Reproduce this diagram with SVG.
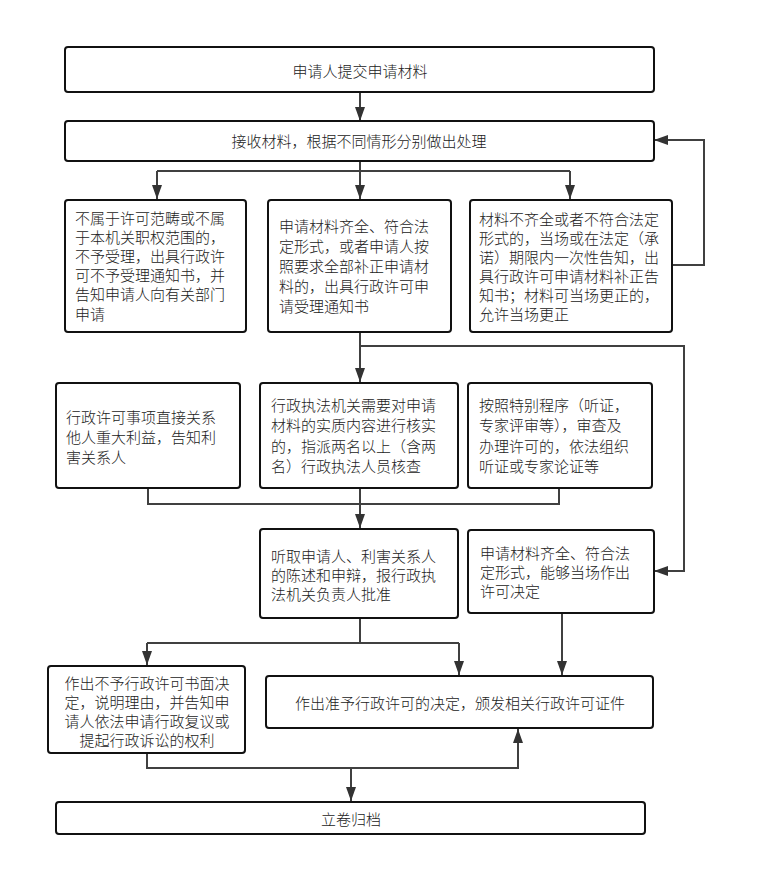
<svg xmlns="http://www.w3.org/2000/svg" width="764" height="896" viewBox="0 0 764 896">
<style>
.box{fill:#fff;stroke:#111;stroke-width:2}
.t{font-family:"Noto Sans CJK SC","Liberation Sans",sans-serif;font-size:15px;font-weight:300;fill:#222;dominant-baseline:central}
.c{text-anchor:middle}
.ln{fill:none;stroke:#404040;stroke-width:2}
</style>
<defs>
<marker id="ar" viewBox="0 0 14 10" refX="14" refY="5" markerWidth="14" markerHeight="10" markerUnits="userSpaceOnUse" orient="auto">
<path d="M0,0 L14,5 L0,10 Z" fill="#333"/>
</marker>
</defs>
<rect width="764" height="896" fill="#fff"/>
<g id="connectors">
<path class="ln" d="M360,92 V121" marker-end="url(#ar)"/>
<path class="ln" d="M672,265 H704 V140 H654" marker-end="url(#ar)"/>
<path class="ln" d="M360,161 V199" marker-end="url(#ar)"/>
<path class="ln" d="M157,171 H570"/>
<path class="ln" d="M157,171 V199" marker-end="url(#ar)"/>
<path class="ln" d="M570,171 V199" marker-end="url(#ar)"/>
<path class="ln" d="M360,332 V382" marker-end="url(#ar)"/>
<path class="ln" d="M360,346 H684 V571 H654" marker-end="url(#ar)"/>
<path class="ln" d="M148,488 V504 H559 V488"/>
<path class="ln" d="M360,488 V528" marker-end="url(#ar)"/>
<path class="ln" d="M360,618 V643"/>
<path class="ln" d="M147,643 H459"/>
<path class="ln" d="M147,643 V665" marker-end="url(#ar)"/>
<path class="ln" d="M459,643 V675" marker-end="url(#ar)"/>
<path class="ln" d="M562,613 V675" marker-end="url(#ar)"/>
<path class="ln" d="M147,753 V768 H518 V729" marker-end="url(#ar)"/>
<path class="ln" d="M351,768 V801" marker-end="url(#ar)"/>
</g>
<g id="n1">
<rect class="box" x="65" y="47" width="589" height="45" rx="3"/>
<text class="t c" x="360" y="70">申请人提交申请材料</text>
</g>
<g id="n2">
<rect class="box" x="65" y="121" width="589" height="40" rx="3"/>
<text class="t c" x="359" y="140">接收材料，根据不同情形分别做出处理</text>
</g>
<g id="n3a">
<rect class="box" x="65" y="200" width="181" height="132" rx="3"/>
<text class="t" x="75" y="217">不属于许可范畴或不属</text>
<text class="t" x="75" y="236">于本机关职权范围的，</text>
<text class="t" x="75" y="255">不予受理，出具行政许</text>
<text class="t" x="75" y="274">可不予受理通知书，并</text>
<text class="t" x="75" y="293">告知申请人向有关部门</text>
<text class="t" x="75" y="313">申请</text>
</g>
<g id="n3b">
<rect class="box" x="268" y="200" width="183" height="132" rx="3"/>
<text class="t" x="279" y="225">申请材料齐全、符合法</text>
<text class="t" x="279" y="245">定形式，或者申请人按</text>
<text class="t" x="279" y="265">照要求全部补正申请材</text>
<text class="t" x="279" y="285">料的，出具行政许可申</text>
<text class="t" x="279" y="305">请受理通知书</text>
</g>
<g id="n3c">
<rect class="box" x="470" y="200" width="202" height="132" rx="3"/>
<text class="t" x="479" y="218">材料不齐全或者不符合法定</text>
<text class="t" x="479" y="237">形式的，当场或在法定（承</text>
<text class="t" x="479" y="256">诺）期限内一次性告知，出</text>
<text class="t" x="479" y="275">具行政许可申请材料补正告</text>
<text class="t" x="479" y="294">知书；材料可当场更正的，</text>
<text class="t" x="479" y="313">允许当场更正</text>
</g>
<g id="n4a">
<rect class="box" x="56" y="383" width="184" height="105" rx="3"/>
<text class="t" x="66" y="416">行政许可事项直接关系</text>
<text class="t" x="66" y="436">他人重大利益，告知利</text>
<text class="t" x="66" y="456">害关系人</text>
</g>
<g id="n4b">
<rect class="box" x="260" y="383" width="198" height="105" rx="3"/>
<text class="t" x="271" y="404">行政执法机关需要对申请</text>
<text class="t" x="271" y="424">材料的实质内容进行核实</text>
<text class="t" x="271" y="445">的，指派两名以上（含两</text>
<text class="t" x="271" y="465">名）行政执法人员核查</text>
</g>
<g id="n4c">
<rect class="box" x="468" y="383" width="184" height="105" rx="3"/>
<text class="t" x="479" y="404">按照特别程序（听证，</text>
<text class="t" x="479" y="424">专家评审等），审查及</text>
<text class="t" x="479" y="445">办理许可的，依法组织</text>
<text class="t" x="479" y="465">听证或专家论证等</text>
</g>
<g id="n5a">
<rect class="box" x="260" y="529" width="198" height="89" rx="3"/>
<text class="t" x="271" y="555">听取申请人、利害关系人</text>
<text class="t" x="271" y="574">的陈述和申辩，报行政执</text>
<text class="t" x="271" y="593">法机关负责人批准</text>
</g>
<g id="n5b">
<rect class="box" x="468" y="530" width="186" height="83" rx="3"/>
<text class="t" x="480" y="552">申请材料齐全、符合法</text>
<text class="t" x="480" y="571">定形式，能够当场作出</text>
<text class="t" x="480" y="590">许可决定</text>
</g>
<g id="n6a">
<rect class="box" x="48" y="666" width="197" height="87" rx="3"/>
<text class="t c" x="147" y="682">作出不予行政许可书面决</text>
<text class="t c" x="147" y="701">定，说明理由，并告知申</text>
<text class="t c" x="147" y="720">请人依法申请行政复议或</text>
<text class="t c" x="147" y="739">提起行政诉讼的权利</text>
</g>
<g id="n6b">
<rect class="box" x="266" y="676" width="387" height="52" rx="3"/>
<text class="t c" x="460" y="702">作出准予行政许可的决定，颁发相关行政许可证件</text>
</g>
<g id="n7">
<rect class="box" x="56" y="802" width="589" height="32" rx="3"/>
<text class="t c" x="351" y="818">立卷归档</text>
</g>
</svg>
